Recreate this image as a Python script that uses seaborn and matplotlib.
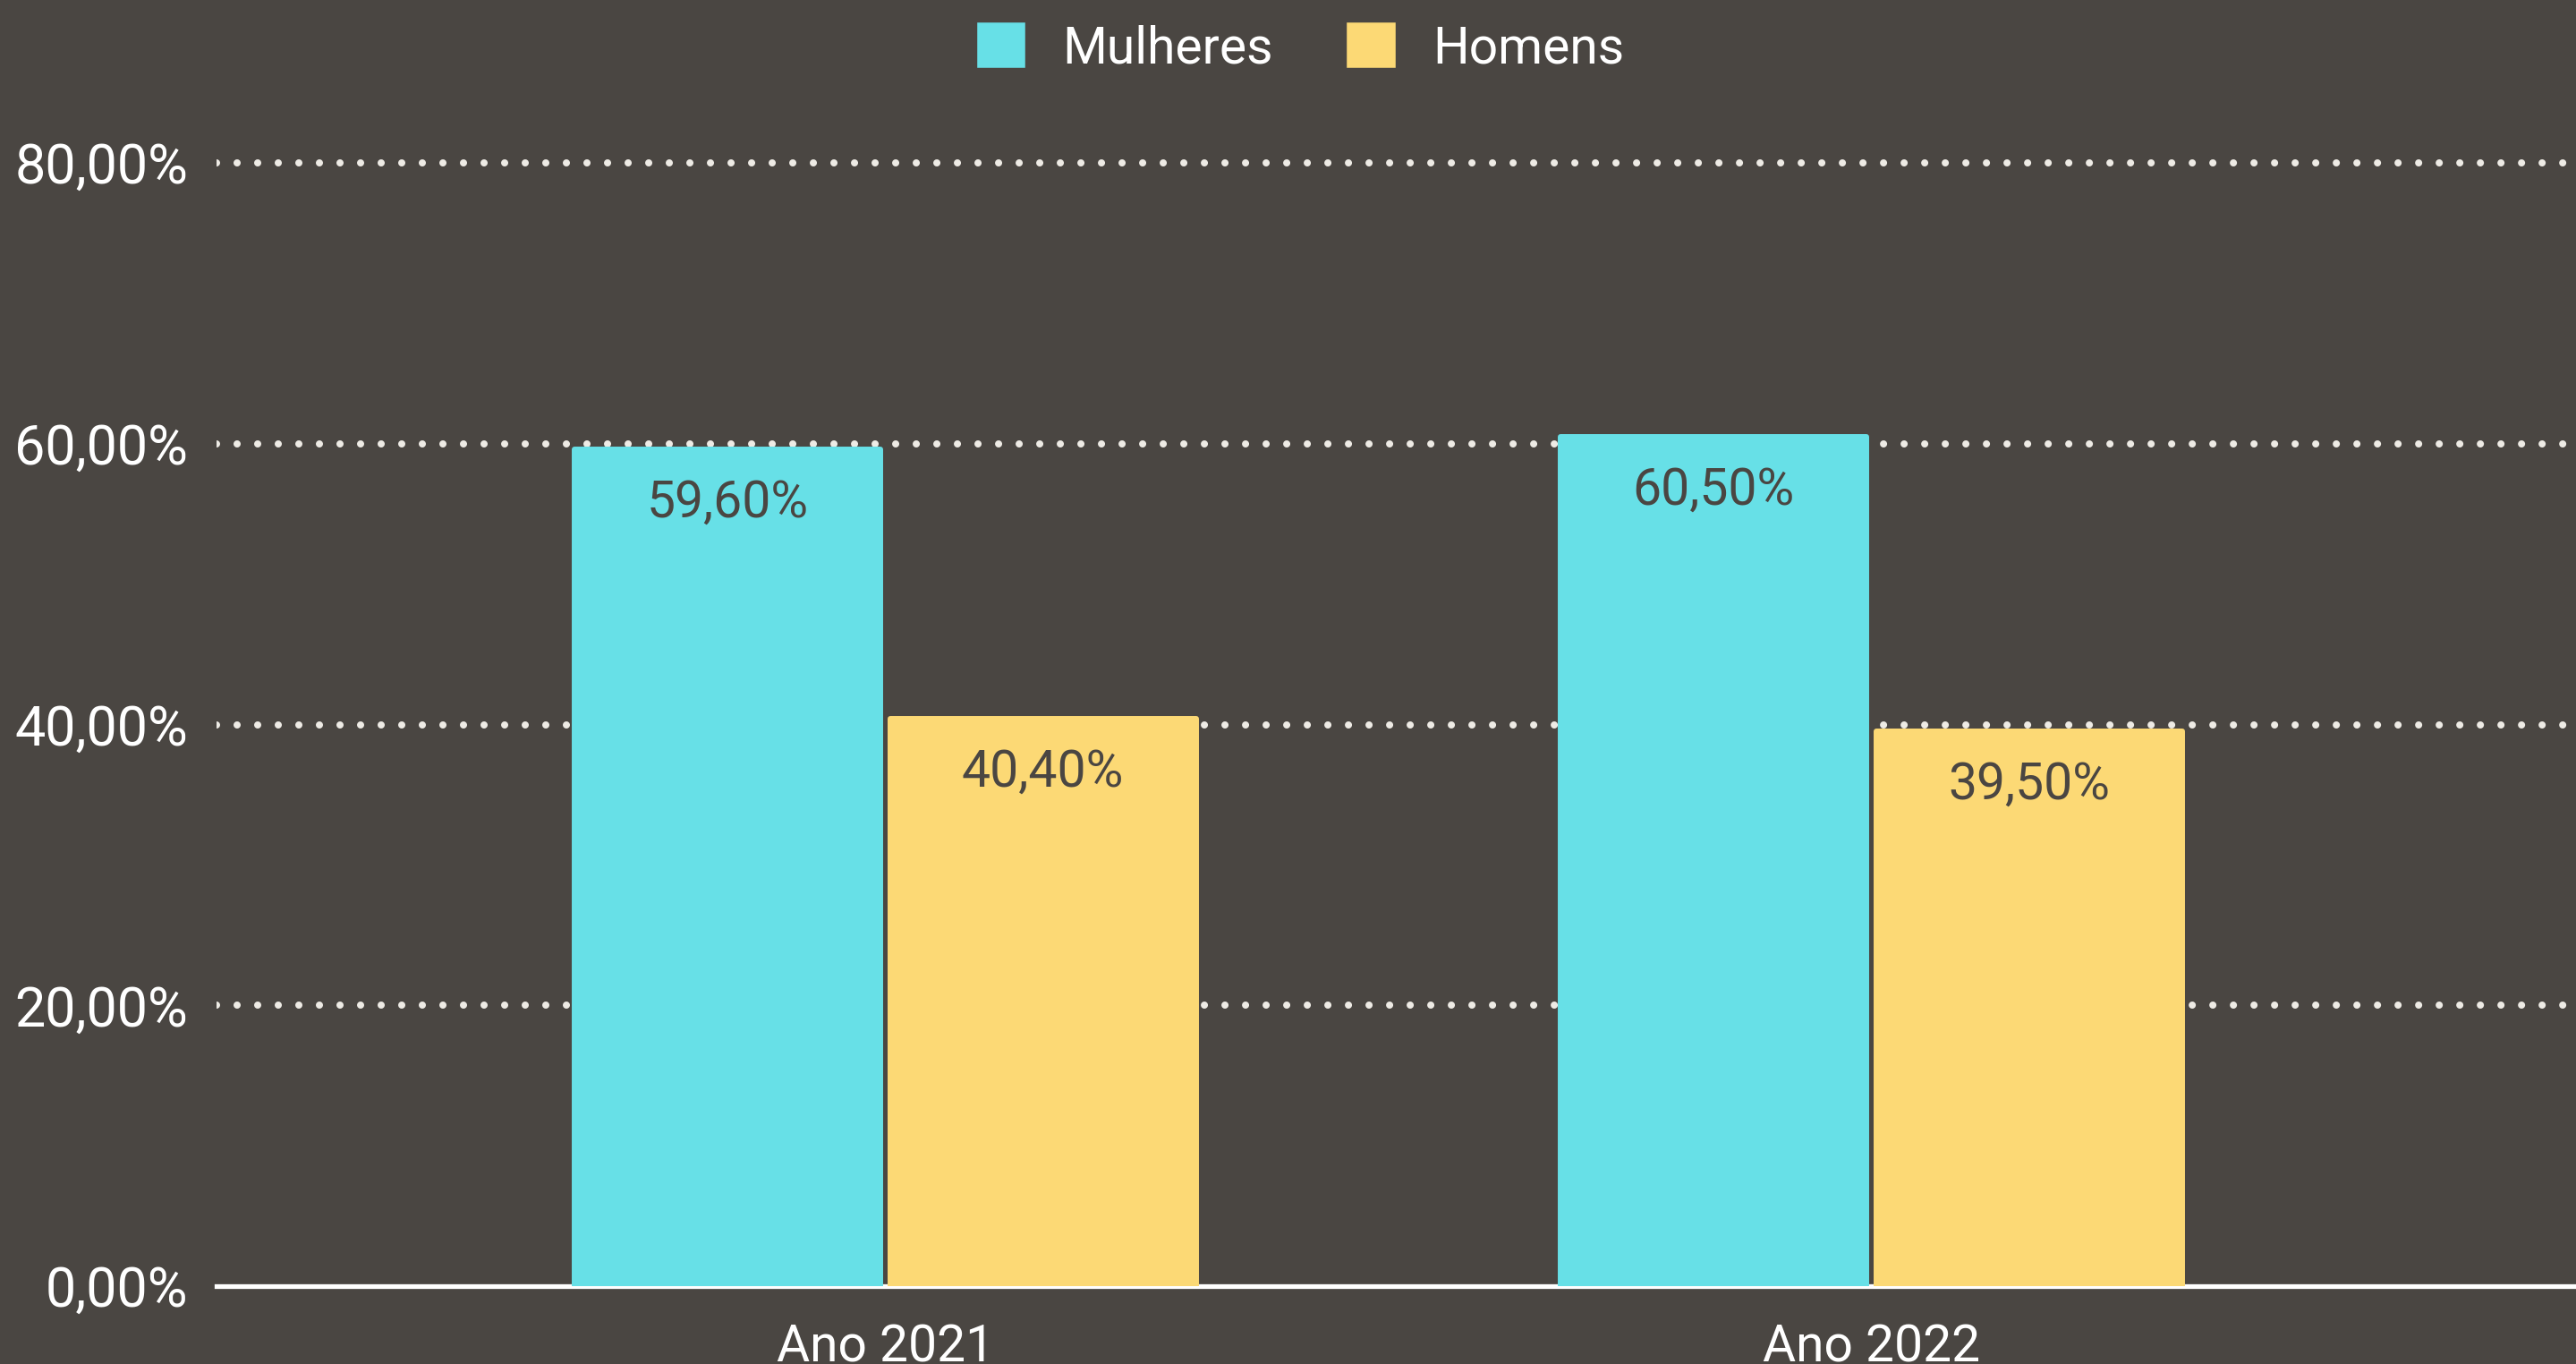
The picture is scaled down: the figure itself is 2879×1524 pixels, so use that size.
import matplotlib
matplotlib.use("Agg")
import matplotlib.pyplot as plt
import seaborn as sns
import pandas as pd

# dados
anos = ["Ano 2021", "Ano 2022"]
mulheres = [59.6, 60.5]
homens = [40.4, 39.5]
grupos = ["Mulheres", "Homens"]
cores = ["#67E0E7", "#FCD975"]
y_ticks = [0, 20, 40, 60, 80]

fundo = "#4A4642"

df = pd.DataFrame({
    "Ano": anos * 2,
    "Grupo": [grupos[0]] * len(anos) + [grupos[1]] * len(anos),
    "Valor": mulheres + homens,
})

sns.set_style("white")
plt.rcParams["font.family"] = ["Roboto", "DejaVu Sans"]
plt.rcParams["lines.scale_dashes"] = False

fig = plt.figure(figsize=(28.79, 15.24), dpi=100, facecolor=fundo)
ax = fig.add_axes([0.0841, 0.0571, 0.9159, 0.8337])
ax.set_facecolor(fundo)

sns.barplot(data=df, x="Ano", y="Valor", hue="Grupo", palette=cores,
            saturation=1, width=0.64, gap=0.03, ax=ax, zorder=3, legend=False)

for bar in ax.patches:
    bar.set_edgecolor(bar.get_facecolor())
    bar.set_linewidth(4.3)
    bar.set_joinstyle("round")

# rótulos de valor dentro das barras
for cont in ax.containers:
    labels = [f"{v:.2f}".replace(".", ",") + "%" for v in cont.datavalues]
    ax.bar_label(cont, labels=labels, padding=-63, fontsize=41,
                 color=fundo, zorder=4)

ax.set_xlim(-0.678, 1.7146)
ax.set_ylim(0, 81)
ax.set_yticks(y_ticks)
ax.set_yticklabels([f"{t:.2f}".replace(".", ",") + "%" for t in y_ticks])
ax.tick_params(axis="y", length=0, pad=23, labelsize=44, labelcolor="white")
ax.tick_params(axis="x", length=0, pad=30, labelsize=41, labelcolor="white")
ax.set_xlabel("")
ax.set_ylabel("")

ax.set_axisbelow(True)
ax.yaxis.grid(True, color="#EEEBE5", linewidth=5.8,
              linestyle=(0, (0.001, 16.56)), dash_capstyle="round")
ax.xaxis.grid(False)
# a linha do zero é a própria base
ax.yaxis.get_gridlines()[0].set_visible(False)

for side in ["top", "right", "left"]:
    ax.spines[side].set_visible(False)
ax.spines["bottom"].set_color("white")
ax.spines["bottom"].set_linewidth(3.8)
ax.spines["bottom"].set_zorder(2.5)

# legenda
handles = [plt.Rectangle((0, 0), 1, 1, facecolor=c, edgecolor=c,
                         linewidth=4, joinstyle="round") for c in cores]
leg = fig.legend(handles, grupos, loc="center", bbox_to_anchor=(0.5054, 0.964),
                 ncol=2, frameon=False, fontsize=41, labelcolor="white",
                 handlelength=0.85, handleheight=0.85, handletextpad=0.78,
                 columnspacing=1.5)

fig.savefig("out.png", dpi=100, facecolor=fundo)
